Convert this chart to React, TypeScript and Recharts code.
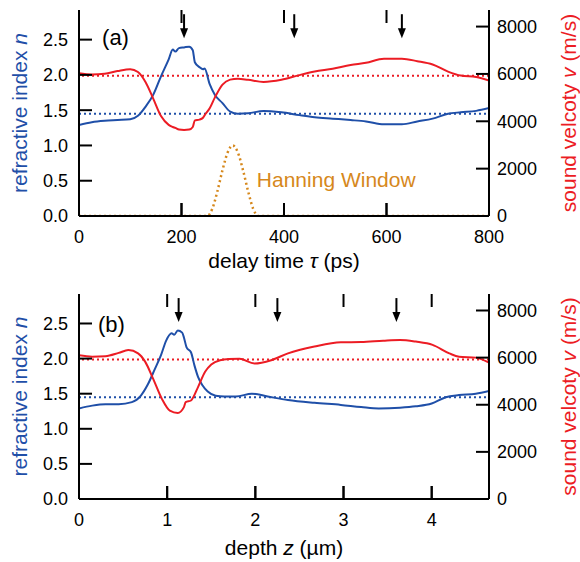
import React from "react";
import {
  ComposedChart,
  Line,
  XAxis,
  YAxis,
  ReferenceLine,
  ReferenceDot,
  Label,
} from "recharts";

const BLUE = "#1f4fa8";
const RED = "#ec1c24";
const ORANGE = "#d6881c";
const FONT = "'Liberation Sans', Arial, Helvetica, sans-serif";

// panel (a): delay time (ps)
const delayTime = [
  0, 25, 50, 75, 100, 115, 130, 145, 160, 175, 183, 188, 195, 205, 215, 222, 226, 235, 242, 245,
  255, 265, 280, 295, 310, 330, 360, 395, 430, 460, 495, 530, 560, 595, 630, 660, 690, 720, 745,
  775, 800,
];
const indexVsTime = [
  1.29, 1.33, 1.35, 1.36, 1.37, 1.42, 1.55, 1.72, 1.98, 2.22, 2.36, 2.33, 2.38, 2.39, 2.4, 2.35,
  2.18, 2.11, 2.08, 2.09, 1.87, 1.72, 1.6, 1.48, 1.45, 1.455, 1.49, 1.47, 1.43, 1.4, 1.38, 1.36,
  1.34, 1.3, 1.3, 1.34, 1.38, 1.45, 1.47, 1.49, 1.53,
];
const velocityVsTime = [
  6030, 5980, 6010, 6120, 6200, 6080, 5650, 4950, 4220, 3850, 3760, 3720, 3650, 3630, 3650, 3760,
  4040, 4070, 4150, 4250, 4550, 5000, 5550, 5760, 5800, 5750, 5660, 5750, 5950, 6100, 6220, 6380,
  6470, 6640, 6640, 6540, 6400, 6100, 5930, 5870, 5720,
];

// Hanning window (normalised, plotted on the n axis)
const hanningTime = [0, 250, 260, 270, 280, 290, 300, 310, 320, 330, 340, 350, 800];
const hanningValue = [0, 0, 0.1, 0.35, 0.65, 0.9, 1, 0.9, 0.65, 0.35, 0.1, 0, 0];

// panel (b): depth (µm)
const depthForIndex = [
  0, 0.15, 0.3, 0.45, 0.6, 0.7, 0.78, 0.86, 0.93, 0.99, 1.05, 1.08, 1.12, 1.17, 1.19, 1.22, 1.27,
  1.31, 1.35, 1.4, 1.46, 1.55, 1.65, 1.78, 1.96, 2.14, 2.37, 2.67, 2.97, 3.2, 3.4, 3.64, 3.82, 4.0,
  4.16, 4.31, 4.5, 4.65,
];
const indexVsDepth = [
  1.29, 1.33, 1.35, 1.35, 1.38, 1.47, 1.63, 1.85, 2.05, 2.26, 2.36, 2.34, 2.4, 2.37, 2.3, 2.16,
  2.09, 1.9, 1.74, 1.62, 1.53, 1.47, 1.46, 1.46, 1.5, 1.46, 1.41, 1.37, 1.34, 1.31, 1.29, 1.3, 1.32,
  1.36, 1.45, 1.48, 1.5, 1.54,
];
const depthForVelocity = [
  0, 0.15, 0.3, 0.45, 0.56, 0.67, 0.75, 0.84, 0.94, 1.03, 1.12, 1.19, 1.21, 1.27, 1.35, 1.43, 1.5,
  1.6, 1.7, 1.82, 1.99, 2.18, 2.37, 2.67, 2.97, 3.2, 3.45, 3.64, 3.82, 4.01, 4.2, 4.31, 4.5, 4.65,
];
const velocityVsDepth = [
  6100, 6040, 6060, 6200, 6320, 6180, 5830, 5110, 4250, 3750, 3650, 3900, 4110, 4180, 4750, 5400,
  5710, 5890, 5940, 5950, 5750, 5890, 6180, 6470, 6650, 6660, 6720, 6750, 6680, 6540, 6180, 6040,
  6000, 5790,
];

const arrowsTime = [205, 420, 630];
const arrowsDepth = [1.13, 2.25, 3.6];

const delayTicks = [0, 200, 400, 600, 800];
const depthTicks = [0, 1, 2, 3, 4];
const indexTicks = [0, 0.5, 1, 1.5, 2, 2.5];
const velocityTicks = [0, 2000, 4000, 6000, 8000];

const INDEX_REF = 1.45;
const VELOCITY_REF = 5920;
const N_MAX = 2.92;
const V_MAX = 8700;
const TICK_LEN = 13;

const zip = (xs: number[], ys: number[]) => xs.map((x, i) => ({ x, y: ys[i] }));
const axisLine = { stroke: "#000", strokeWidth: 2 };

// ticks point into the plot: draw mark + label per tick
function axisTick(side: "bottom" | "top" | "left" | "right", margin: number, fmt?: (v: number) => string) {
  return (t: any) => {
    const x = Number(t.x);
    const y = Number(t.y);
    const label = fmt ? fmt(Number(t.payload.value)) : String(t.payload.value);
    if (side === "top") {
      return <line x1={x} x2={x} y1={y} y2={y + TICK_LEN} stroke="#000" strokeWidth={2} />;
    }
    if (side === "bottom") {
      const ay = y - margin;
      return (
        <g>
          <line x1={x} x2={x} y1={ay} y2={ay - TICK_LEN} stroke="#000" strokeWidth={2} />
          <text x={x} y={y} dy="0.71em" textAnchor="middle" fontSize={18} fill="#000">
            {label}
          </text>
        </g>
      );
    }
    const ax = side === "left" ? x + margin : x - margin;
    const end = side === "left" ? ax + TICK_LEN : ax - TICK_LEN;
    return (
      <g>
        <line x1={ax} x2={end} y1={y} y2={y} stroke="#000" strokeWidth={2} />
        <text x={x} y={y} dy="0.355em" textAnchor={side === "left" ? "end" : "start"} fontSize={18} fill="#000">
          {label}
        </text>
      </g>
    );
  };
}

// top tick and matching bottom tick, from a dot on the top edge
function pairTick(plotH: number) {
  return (p: any) => {
    const cx = Number(p.cx);
    const cy = Number(p.cy);
    return (
      <g>
        <line x1={cx} y1={cy} x2={cx} y2={cy + TICK_LEN} stroke="#000" strokeWidth={2} />
        <line x1={cx} y1={cy + plotH} x2={cx} y2={cy + plotH - TICK_LEN} stroke="#000" strokeWidth={2} />
      </g>
    );
  };
}

function Arrow(props: any) {
  const cx = Number(props.cx);
  const cy = Number(props.cy);
  return (
    <g>
      <line x1={cx} x2={cx} y1={cy - 24} y2={cy - 8} stroke="#000" strokeWidth={2} />
      <polygon points={`${cx - 4},${cy - 10} ${cx + 4},${cy - 10} ${cx},${cy}`} fill="#000" />
    </g>
  );
}

function textShape(text: string, color: string, size: number) {
  return (p: any) => (
    <text x={Number(p.cx)} y={Number(p.cy)} fill={color} fontSize={size} textAnchor="start">
      {text}
    </text>
  );
}

type PanelProps = {
  height: number;
  top: number;
  axisH: number;
  titleOffset: number;
  xDomain: [number, number];
  xTicks: number[];
  xTitle: string;
  xVar: string;
  xUnit: string;
  tag: string;
  tagAt: [number, number];
  nData: { x: number; y: number }[];
  vData: { x: number; y: number }[];
  arrows: number[];
  hanning?: { x: number; y: number }[];
  hanningAt?: [number, number];
};

function Panel(p: PanelProps) {
  const plotH = p.height - p.top - p.axisH;
  return (
    <ComposedChart width={580} height={p.height} margin={{ top: p.top, right: 0, bottom: 0, left: 0 }}>
      <XAxis
        xAxisId="b"
        dataKey="x"
        type="number"
        domain={p.xDomain}
        ticks={p.xTicks}
        interval={0}
        allowDataOverflow
        height={p.axisH}
        axisLine={axisLine}
        tickLine={false}
        tickSize={0}
        tickMargin={14}
        tick={axisTick("bottom", 14)}
      >
        <Label
          content={(lp: any) => {
            const vb = lp.viewBox;
            return (
              <text x={vb.x + vb.width / 2} y={vb.y + p.titleOffset} textAnchor="middle" fontSize={21} fill="#000">
                {p.xTitle}
                <tspan fontStyle="italic">{p.xVar}</tspan>
                {p.xUnit}
              </text>
            );
          }}
        />
      </XAxis>
      <XAxis
        xAxisId="t"
        dataKey="x"
        orientation="top"
        type="number"
        domain={p.xDomain}
        ticks={p.xTicks}
        interval={0}
        allowDataOverflow
        height={0}
        axisLine={axisLine}
        tickLine={false}
        tickSize={0}
        tickMargin={0}
        tick={axisTick("top", 0)}
      />
      <YAxis
        yAxisId="n"
        type="number"
        domain={[0, N_MAX]}
        ticks={indexTicks}
        interval={0}
        allowDataOverflow
        width={79}
        axisLine={axisLine}
        tickLine={false}
        tickSize={0}
        tickMargin={11}
        tick={axisTick("left", 11, (v) => v.toFixed(1))}
      >
        <Label
          content={(lp: any) => {
            const vb = lp.viewBox;
            const cx = vb.x + 27;
            const cy = vb.y + vb.height / 2;
            return (
              <text x={cx} y={cy} transform={`rotate(-90, ${cx}, ${cy})`} textAnchor="middle" fontSize={21} fill={BLUE}>
                refractive index <tspan fontStyle="italic">n</tspan>
              </text>
            );
          }}
        />
      </YAxis>
      <YAxis
        yAxisId="v"
        orientation="right"
        type="number"
        domain={[0, V_MAX]}
        ticks={velocityTicks}
        interval={0}
        allowDataOverflow
        width={91}
        axisLine={axisLine}
        tickLine={false}
        tickSize={0}
        tickMargin={8}
        tick={axisTick("right", 8)}
      >
        <Label
          content={(lp: any) => {
            const vb = lp.viewBox;
            const cx = vb.x + 87;
            const cy = vb.y + vb.height / 2;
            return (
              <text x={cx} y={cy} transform={`rotate(-90, ${cx}, ${cy})`} textAnchor="middle" fontSize={21} fill={RED}>
                sound velcoty <tspan fontStyle="italic">v</tspan> (m/s)
              </text>
            );
          }}
        />
      </YAxis>

      <ReferenceLine xAxisId="b" yAxisId="n" y={INDEX_REF} stroke={BLUE} strokeWidth={2} strokeDasharray="2 3" />
      <ReferenceLine xAxisId="b" yAxisId="v" y={VELOCITY_REF} stroke={RED} strokeWidth={2} strokeDasharray="2 3" />

      <Line
        xAxisId="b"
        yAxisId="n"
        data={p.nData}
        dataKey="y"
        type="monotone"
        stroke={BLUE}
        strokeWidth={2}
        dot={false}
        isAnimationActive={false}
      />
      <Line
        xAxisId="b"
        yAxisId="v"
        data={p.vData}
        dataKey="y"
        type="monotone"
        stroke={RED}
        strokeWidth={2}
        dot={false}
        isAnimationActive={false}
      />
      {p.hanning && (
        <Line
          xAxisId="b"
          yAxisId="n"
          data={p.hanning}
          dataKey="y"
          type="monotone"
          stroke={ORANGE}
          strokeWidth={2.5}
          strokeDasharray="2 3"
          dot={false}
          isAnimationActive={false}
        />
      )}

      {p.xTicks.map((t) => (
        <ReferenceDot key={`x${t}`} xAxisId="b" yAxisId="n" x={t} y={N_MAX} r={0} ifOverflow="visible" shape={pairTick(plotH)} />
      ))}
      {p.arrows.map((a) => (
        <ReferenceDot key={`a${a}`} xAxisId="b" yAxisId="n" x={a} y={2.52} r={0} shape={Arrow} />
      ))}
      <ReferenceDot xAxisId="b" yAxisId="n" x={p.tagAt[0]} y={p.tagAt[1]} r={0} shape={textShape(p.tag, "#000", 22)} />
      {p.hanningAt && (
        <ReferenceDot
          xAxisId="b"
          yAxisId="n"
          x={p.hanningAt[0]}
          y={p.hanningAt[1]}
          r={0}
          shape={textShape("Hanning Window", ORANGE, 21)}
        />
      )}
    </ComposedChart>
  );
}

export default function App() {
  return (
    <div
      style={{
        position: "absolute",
        left: 0,
        top: 0,
        width: 580,
        height: 562,
        background: "#fff",
        fontFamily: FONT,
      }}
    >
      <Panel
        height={281}
        top={10}
        axisH={65}
        titleOffset={52}
        xDomain={[0, 800]}
        xTicks={delayTicks}
        xTitle="delay time "
        xVar="τ"
        xUnit=" (ps)"
        tag="(a)"
        tagAt={[45, 2.42]}
        nData={zip(delayTime, indexVsTime)}
        vData={zip(delayTime, velocityVsTime)}
        arrows={arrowsTime}
        hanning={zip(hanningTime, hanningValue)}
        hanningAt={[347, 0.41]}
      />
      <Panel
        height={281}
        top={13}
        axisH={63}
        titleOffset={56}
        xDomain={[0, 4.65]}
        xTicks={depthTicks}
        xTitle="depth "
        xVar="z"
        xUnit=" (µm)"
        tag="(b)"
        tagAt={[0.215, 2.38]}
        nData={zip(depthForIndex, indexVsDepth)}
        vData={zip(depthForVelocity, velocityVsDepth)}
        arrows={arrowsDepth}
      />
    </div>
  );
}
